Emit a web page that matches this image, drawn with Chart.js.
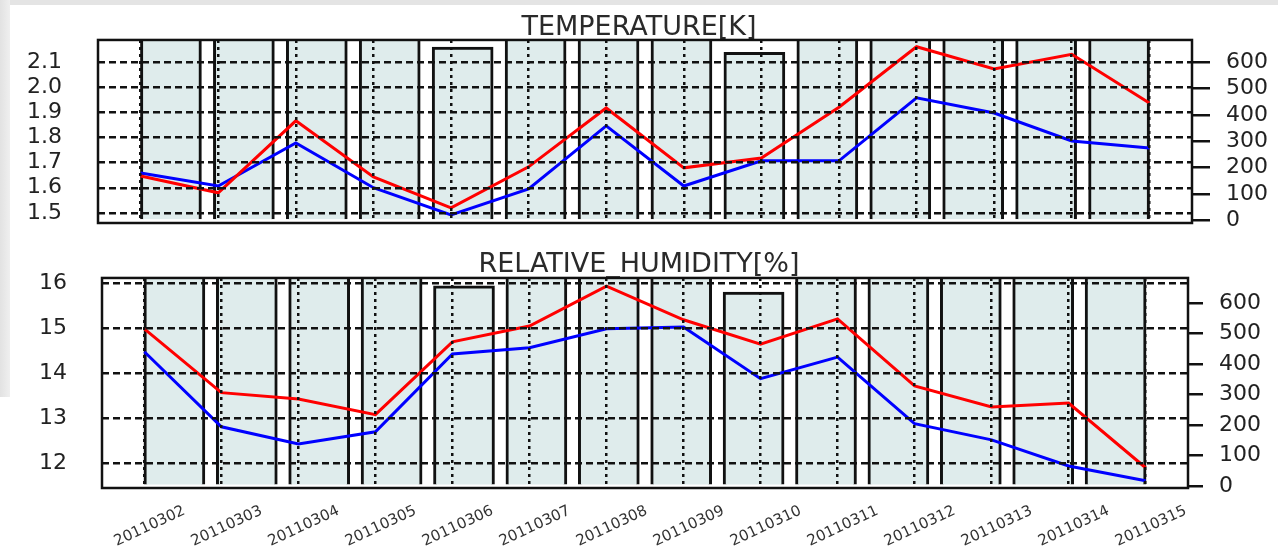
<!DOCTYPE html>
<html>
<head>
<meta charset="utf-8">
<script src="https://cdn.jsdelivr.net/npm/chart.js@4/dist/chart.umd.min.js"></script>
<style>
  html, body { margin: 0; padding: 0; background: #fff; }
  body { width: 1278px; height: 556px; position: relative; overflow: hidden; }
  .frame-top { position: absolute; left: 0; top: 0; width: 1278px; height: 5px; background: #e4e4e4; }
  .frame-left { position: absolute; left: 0; top: 0; width: 10px; height: 397px; background: linear-gradient(to right, #e2e2e2, #efefef); }
  #wrapTop { position: absolute; left: 0; top: 0; width: 1278px; height: 240px; }
  #wrapBot { position: absolute; left: 0; top: 240px; width: 1278px; height: 316px; }
</style>
</head>
<body>
<div class="frame-top"></div>
<div class="frame-left"></div>
<div id="wrapTop"><canvas id="tempChart" width="1278" height="240"></canvas></div>
<div id="wrapBot"><canvas id="rhChart" width="1278" height="316"></canvas></div>
<script>
// ── data ───────────────────────────────────────────────────────
const DATES = ['20110302', '20110303', '20110304', '20110305', '20110306', '20110307', '20110308',
               '20110309', '20110310', '20110311', '20110312', '20110313', '20110314', '20110315'];

// bar counts (right axis); most bars run past the top of the plot
const COUNTS = [700, 700, 700, 700, 656, 700, 700, 700, 636, 700, 700, 700, 700, 700];

const TEMP_RED  = [1.647, 1.58, 1.866, 1.643, 1.52, 1.683, 1.917, 1.679, 1.718, 1.92, 2.16, 2.072, 2.13, 1.937];
const TEMP_BLUE = [1.659, 1.607, 1.778, 1.60, 1.492, 1.595, 1.846, 1.607, 1.707, 1.707, 1.957, 1.897, 1.786, 1.758];

const RH_RED  = [14.98, 13.56, 13.42, 13.07, 14.69, 15.04, 15.93, 15.18, 14.64, 15.2, 13.71, 13.24, 13.33, 11.89];
const RH_BLUE = [14.47, 12.8, 12.42, 12.69, 14.42, 14.56, 14.98, 15.02, 13.87, 14.35, 12.87, 12.51, 11.93, 11.6];

const TEMP_TICKS  = [1.5, 1.6, 1.7, 1.8, 1.9, 2.0, 2.1];
const RH_TICKS    = [12, 13, 14, 15, 16];
const COUNT_TICKS = [0, 100, 200, 300, 400, 500, 600];

const BAR_FILL = '#dfecec';
const FONT = 'DejaVu Sans';

// ── plot frame ─────────────────────────────────────────────────
const frameBorder = {
    id: 'frameBorder',
    afterDraw(chart) {
        const { ctx, chartArea: a } = chart;
        ctx.save();
        ctx.strokeStyle = '#111';
        ctx.lineWidth = 2.5;
        ctx.strokeRect(a.left, a.top, a.right - a.left, a.bottom - a.top);
        ctx.restore();
    },
};

function fixedTicks(list) {
    return scale => { scale.ticks = list.map(v => ({ value: v })); };
}

// force an exact axis box and drop the label overhang padding
function fixedBox(size) {
    return s => {
        if (s.isHorizontal()) s.height = size; else s.width = size;
        s.paddingTop = s.paddingBottom = s.paddingLeft = s.paddingRight = 0;
    };
}

function buildChart(id, cfg) {
    const pts = arr => arr.map((v, i) => ({ x: i, y: v }));
    return new Chart(document.getElementById(id), {
        type: 'line',
        data: {
            datasets: [
                {
                    type: 'line', data: pts(cfg.red), xAxisID: 'xl', yAxisID: 'yl',
                    borderColor: '#ff0000', borderWidth: 3, pointRadius: 0, tension: 0, order: 1,
                },
                {
                    type: 'line', data: pts(cfg.blue), xAxisID: 'xl', yAxisID: 'yl',
                    borderColor: '#0000ff', borderWidth: 3, pointRadius: 0, tension: 0, order: 2,
                },
                {
                    type: 'bar', data: COUNTS.map((v, i) => ({ x: i + 1, y: v })), xAxisID: 'xb', yAxisID: 'yr',
                    backgroundColor: BAR_FILL, borderColor: '#111', borderWidth: 3,
                    grouped: false, barThickness: 61, order: 5,
                },
            ],
        },
        options: {
            responsive: false,
            animation: false,
            events: [],
            layout: { autoPadding: false, padding: { left: 0, right: 0, top: 0, bottom: cfg.padBottom } },
            plugins: {
                legend: { display: false },
                tooltip: { enabled: false },
                title: {
                    display: true,
                    text: cfg.title,
                    color: '#2a2a2a',
                    font: { family: FONT, size: 27, weight: 'normal', lineHeight: 0.88 },
                    padding: { top: cfg.titleTop, bottom: cfg.titleBottom },
                },
            },
            scales: {
                xb: {
                    type: 'linear', position: 'bottom', display: false, offset: false,
                    min: 0, max: DATES.length + 1,
                },
                xl: {
                    type: 'linear', position: 'bottom', offset: false,
                    min: -0.55, max: DATES.length - 0.45,
                    afterBuildTicks: fixedTicks(DATES.map((_, i) => i)),
                    afterFit: fixedBox(cfg.xHeight),
                    border: { display: false, dash: [3, 4] },
                    grid: { color: '#111', lineWidth: 2.5, drawTicks: false, offset: false, z: 1 },
                    ticks: {
                        display: cfg.showDates,
                        autoSkip: false,
                        maxRotation: 25, minRotation: 25,
                        labelOffset: 40, padding: 14,
                        color: '#333',
                        font: { family: FONT, size: 15 },
                        callback: v => DATES[v],
                    },
                },
                yl: {
                    position: 'left',
                    min: cfg.leftMin, max: cfg.leftMax,
                    afterBuildTicks: fixedTicks(cfg.leftTicks),
                    afterFit: fixedBox(cfg.leftWidth),
                    border: { display: false, dash: [7, 4] },
                    grid: { color: '#111', lineWidth: 2.5, drawTicks: false, z: 1 },
                    ticks: {
                        padding: cfg.leftPad, color: '#222',
                        font: { family: FONT, size: 22 },
                        callback: v => cfg.leftFmt(v),
                    },
                },
                yr: {
                    position: 'right',
                    min: cfg.rightMin, max: cfg.rightMax,
                    afterBuildTicks: fixedTicks(COUNT_TICKS),
                    afterFit: fixedBox(cfg.rightWidth),
                    border: { display: false },
                    grid: { drawOnChartArea: false, drawTicks: true, tickLength: cfg.tickLen, color: '#111', lineWidth: 2.5 },
                    ticks: { padding: 16, color: '#222', font: { family: FONT, size: 22 } },
                },
            },
        },
        plugins: [frameBorder],
    });
}

buildChart('tempChart', {
    title: 'TEMPERATURE[K]',
    red: TEMP_RED, blue: TEMP_BLUE,
    titleTop: 16, titleBottom: 0.2,
    padBottom: 17, xHeight: 0, showDates: false,
    leftMin: 1.46, leftMax: 2.187, leftTicks: TEMP_TICKS, leftFmt: v => v.toFixed(1),
    leftWidth: 98, leftPad: 36,
    rightMin: -9, rightMax: 683, rightWidth: 86, tickLen: 18,
});

buildChart('rhChart', {
    title: 'RELATIVE_HUMIDITY[%]',
    red: RH_RED, blue: RH_BLUE,
    titleTop: 13.1, titleBottom: 1.1,
    padBottom: 0, xHeight: 68, showDates: true,
    leftMin: 11.44, leftMax: 16.11, leftTicks: RH_TICKS, leftFmt: v => String(v),
    leftWidth: 102, leftPad: 35,
    rightMin: -7, rightMax: 682, rightWidth: 90, tickLen: 15,
});
</script>
</body>
</html>
